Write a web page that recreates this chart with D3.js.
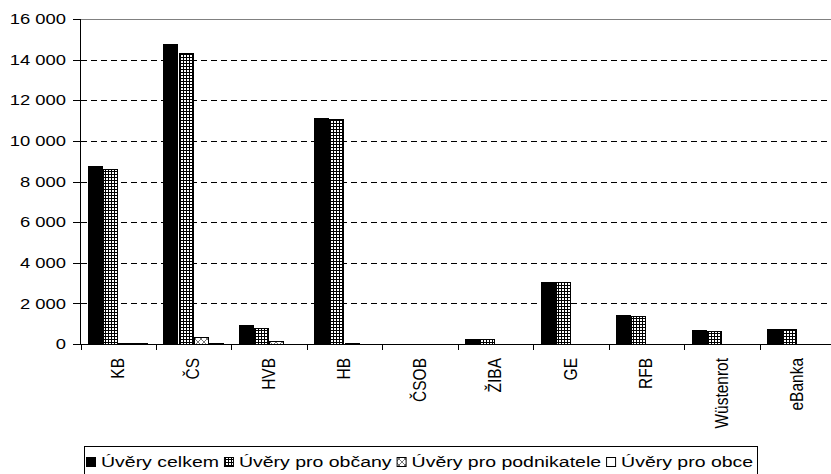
<!DOCTYPE html>
<html><head><meta charset="utf-8">
<script src="https://cdn.jsdelivr.net/npm/d3@7"></script>
<style>body{margin:0;background:#fff}svg{display:block}text{font-family:"Liberation Sans",Arial,sans-serif;fill:#000}</style>
</head><body><svg id="c" width="831" height="474"></svg>
<script>
const categories = ["KB","ČS","HVB","HB","ČSOB","ŽIBA","GE","RFB","Wüstenrot","eBanka"];
const seriesNames = ["Úvěry celkem","Úvěry pro občany","Úvěry pro podnikatele","Úvěry pro obce"];
const celkem      = [8780,14750,935,11150,0,250,3040,1410,670,740];
const obcany      = [8630,14340,800,11100,0,250,3030,1400,660,730];
const podnikatele = [60,360,130,60,0,0,0,0,0,0];
const obce        = [30,60,20,20,0,0,0,0,0,0];
const yTicks = [0,2000,4000,6000,8000,10000,12000,14000,16000];

const series = [celkem, obcany, podnikatele, obce];
const svg = d3.select("#c");
const SX = 1.27, FS = 14.5;

const defs = svg.append("defs");
const pg = defs.append("pattern").attr("id","grid").attr("patternUnits","userSpaceOnUse").attr("width",3).attr("height",3);
pg.append("rect").attr("width",3).attr("height",3).attr("fill","#fff");
pg.append("rect").attr("x",0).attr("y",0).attr("width",1).attr("height",3).attr("fill","#000");
pg.append("rect").attr("x",0).attr("y",0).attr("width",3).attr("height",1).attr("fill","#000");
const pd = defs.append("pattern").attr("id","diam").attr("patternUnits","userSpaceOnUse").attr("width",6).attr("height",6);
pd.append("rect").attr("width",6).attr("height",6).attr("fill","#fff");
pd.append("path").attr("d","M0,0L6,6M6,0L0,6").attr("stroke","#777").attr("stroke-width",1);
const fills = ["#000","url(#grid)","url(#diam)","#fff"];

const left = 80.5, band = 75.45;
const x = d3.scaleBand().domain(categories).range([left, left + band*categories.length]).paddingInner(0).paddingOuter(0);
const bw = x.bandwidth()/5;
const y = d3.scaleLinear().domain([0,16000]).range([344,19]);

// gridlines
svg.append("g").selectAll("line").data(yTicks.filter(t=>t>0 && t<16000)).join("line")
  .attr("x1",81).attr("x2",831).attr("y1",d=>Math.round(y(d))+0.5).attr("y2",d=>Math.round(y(d))+0.5)
  .attr("stroke","#000").attr("stroke-dasharray","6,4");
svg.append("line").attr("x1",80).attr("x2",831).attr("y1",Math.round(y(16000))+0.5).attr("y2",Math.round(y(16000))+0.5)
  .attr("stroke","#808080").attr("stroke-width",1);

// bars
const gBars = svg.append("g");
categories.forEach((c,i)=>{
  series.forEach((s,j)=>{
    const v = s[i]; if(!v) return;
    const x0 = x(c) + bw*0.5 + bw*j;
    gBars.append("rect").attr("x",Math.round(x0)+0.5).attr("width",Math.round(bw)-1)
      .attr("y",Math.round(y(v))+0.5).attr("height",Math.max(0,Math.round(y(0))-Math.round(y(v))))
      .attr("fill",fills[j]).attr("stroke","#000").attr("stroke-width",1);
  });
});

// y axis
const ya = svg.append("g");
ya.append("line").attr("x1",80.5).attr("x2",80.5).attr("y1",y(16000)).attr("y2",y(0)+1).attr("stroke","#000");
ya.selectAll("line.t").data(yTicks).join("line").attr("class","t")
  .attr("x1",73).attr("x2",80).attr("y1",d=>Math.round(y(d))+0.5).attr("y2",d=>Math.round(y(d))+0.5).attr("stroke","#000");
const fmt = d=>d3.format(",")(d).replace(/,/g," ");
ya.selectAll("text").data(yTicks).join("text")
  .attr("transform",d=>`translate(66,${y(d)}) scale(${SX},1)`)
  .attr("text-anchor","end").attr("dy","0.36em").attr("font-size",FS).text(fmt);

// x axis
const xa = svg.append("g");
xa.append("line").attr("x1",80).attr("x2",831).attr("y1",Math.round(y(0))+0.5).attr("y2",Math.round(y(0))+0.5).attr("stroke","#000");
xa.selectAll("line.t").data(categories).join("line").attr("class","t")
  .attr("x1",d=>Math.round(x(d))+0.5).attr("x2",d=>Math.round(x(d))+0.5).attr("y1",y(0)).attr("y2",y(0)+6).attr("stroke","#000");
xa.selectAll("text").data(categories).join("text")
  .attr("transform",d=>`translate(${x(d)+x.bandwidth()/2-1},358) scale(1.2,1) rotate(-90)`)
  .attr("text-anchor","end").attr("dy","0.36em").attr("font-size",15.5).text(d=>d);

// legend
const lg = svg.append("g");
lg.append("rect").attr("x",84.5).attr("y",446.5).attr("width",673).attr("height",40).attr("fill","#fff").attr("stroke","#000");
const LSX = 1.3, LFS = 15;
let cx = 86;
seriesNames.forEach((n,j)=>{
  lg.append("rect").attr("x",cx+0.5).attr("y",457.5).attr("width",9).attr("height",9).attr("fill",fills[j]).attr("stroke","#000");
  cx += 15;
  const t = lg.append("text").attr("transform",`translate(${cx},467) scale(${LSX},1)`).attr("font-size",LFS).text(n);
  cx += t.node().getComputedTextLength()*LSX + 5;
});
</script></body></html>
